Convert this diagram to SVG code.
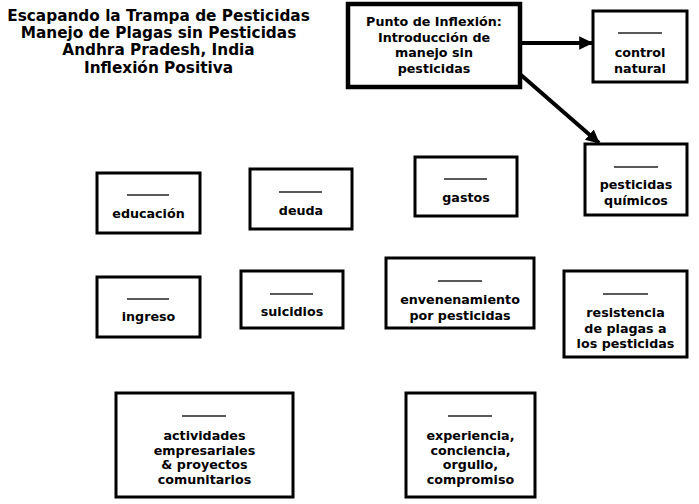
<svg xmlns="http://www.w3.org/2000/svg" width="699" height="504" viewBox="0 0 699 504">
<style>
  text { font-family: "DejaVu Sans", Verdana, sans-serif; font-weight: bold; fill: #000; text-anchor: middle; }
  .title { font-size: 15.3px; }
  .lbl { font-size: 12.7px; }
  .box { fill: #fff; stroke: #000; stroke-width: 3; }
  .main { fill: #fff; stroke: #000; stroke-width: 4.5; }
  .blank { stroke: #222; stroke-width: 1.6; }
  .conn { stroke: #000; stroke-width: 4; fill: none; }
</style>
<defs>
  <marker id="ah" markerWidth="4" markerHeight="4" refX="3.2" refY="2" orient="auto" markerUnits="strokeWidth">
    <path d="M0,0.3 L3.5,2 L0,3.7 z" fill="#000"/>
  </marker>
</defs>
<rect width="699" height="504" fill="#fff"/>
<g id="title">
  <text class="title" x="158.5" y="21">Escapando la Trampa de Pesticidas</text>
  <text class="title" x="158.5" y="38">Manejo de Plagas sin Pesticidas</text>
  <text class="title" x="158.5" y="55">Andhra Pradesh, India</text>
  <text class="title" x="158.5" y="72.5">Inflexión Positiva</text>
</g>
<g id="connectors">
  <line class="conn" x1="522" y1="43" x2="592" y2="43" marker-end="url(#ah)"/>
  <line class="conn" x1="521" y1="75" x2="599" y2="143" marker-end="url(#ah)"/>
</g>
<g id="punto">
  <rect class="main" x="348" y="4" width="172" height="83"/>
  <text class="lbl" x="434" y="26">Punto de Inflexión:</text>
  <text class="lbl" x="434" y="41.5">Introducción de</text>
  <text class="lbl" x="434" y="57">manejo sin</text>
  <text class="lbl" x="434" y="72.5">pesticidas</text>
</g>
<g id="control">
  <rect class="box" x="593" y="11" width="94" height="71"/>
  <line class="blank" x1="618" y1="33" x2="662" y2="33"/>
  <text class="lbl" x="640" y="57">control</text>
  <text class="lbl" x="640" y="72.5">natural</text>
</g>
<g id="quimicos">
  <rect class="box" x="585" y="144" width="102" height="71"/>
  <line class="blank" x1="614" y1="167" x2="658" y2="167"/>
  <text class="lbl" x="636" y="189">pesticidas</text>
  <text class="lbl" x="636" y="205">químicos</text>
</g>
<g id="educacion">
  <rect class="box" x="97" y="173" width="103" height="60"/>
  <line class="blank" x1="127" y1="195" x2="169" y2="195"/>
  <text class="lbl" x="148.5" y="218">educación</text>
</g>
<g id="deuda">
  <rect class="box" x="250" y="169" width="102" height="60"/>
  <line class="blank" x1="279" y1="192" x2="322" y2="192"/>
  <text class="lbl" x="301" y="215">deuda</text>
</g>
<g id="gastos">
  <rect class="box" x="415" y="157" width="102" height="59"/>
  <line class="blank" x1="444" y1="179" x2="487" y2="179"/>
  <text class="lbl" x="466" y="202">gastos</text>
</g>
<g id="ingreso">
  <rect class="box" x="97" y="277" width="103" height="60"/>
  <line class="blank" x1="127" y1="299" x2="169" y2="299"/>
  <text class="lbl" x="148.5" y="321">ingreso</text>
</g>
<g id="suicidios">
  <rect class="box" x="241" y="271" width="102" height="57"/>
  <line class="blank" x1="270" y1="294" x2="313" y2="294"/>
  <text class="lbl" x="292" y="316">suicidios</text>
</g>
<g id="envenenamiento">
  <rect class="box" x="386" y="258" width="148" height="70"/>
  <line class="blank" x1="438" y1="281" x2="482" y2="281"/>
  <text class="lbl" x="460" y="304">envenenamiento</text>
  <text class="lbl" x="460" y="320">por pesticidas</text>
</g>
<g id="resistencia">
  <rect class="box" x="564" y="271" width="123" height="86"/>
  <line class="blank" x1="603" y1="294" x2="648" y2="294"/>
  <text class="lbl" x="625.5" y="317">resistencia</text>
  <text class="lbl" x="625.5" y="332.5">de plagas a</text>
  <text class="lbl" x="625.5" y="348">los pesticidas</text>
</g>
<g id="actividades">
  <rect class="box" x="116" y="393" width="177" height="104"/>
  <line class="blank" x1="182" y1="416" x2="226" y2="416"/>
  <text class="lbl" x="204.5" y="440">actividades</text>
  <text class="lbl" x="204.5" y="454.5">empresariales</text>
  <text class="lbl" x="204.5" y="469">&amp; proyectos</text>
  <text class="lbl" x="204.5" y="484">comunitarios</text>
</g>
<g id="experiencia">
  <rect class="box" x="406" y="393" width="129" height="104"/>
  <line class="blank" x1="448" y1="416" x2="492" y2="416"/>
  <text class="lbl" x="470.5" y="440">experiencia,</text>
  <text class="lbl" x="470.5" y="454.5">conciencia,</text>
  <text class="lbl" x="470.5" y="469">orgullo,</text>
  <text class="lbl" x="470.5" y="484">compromiso</text>
</g>
</svg>
